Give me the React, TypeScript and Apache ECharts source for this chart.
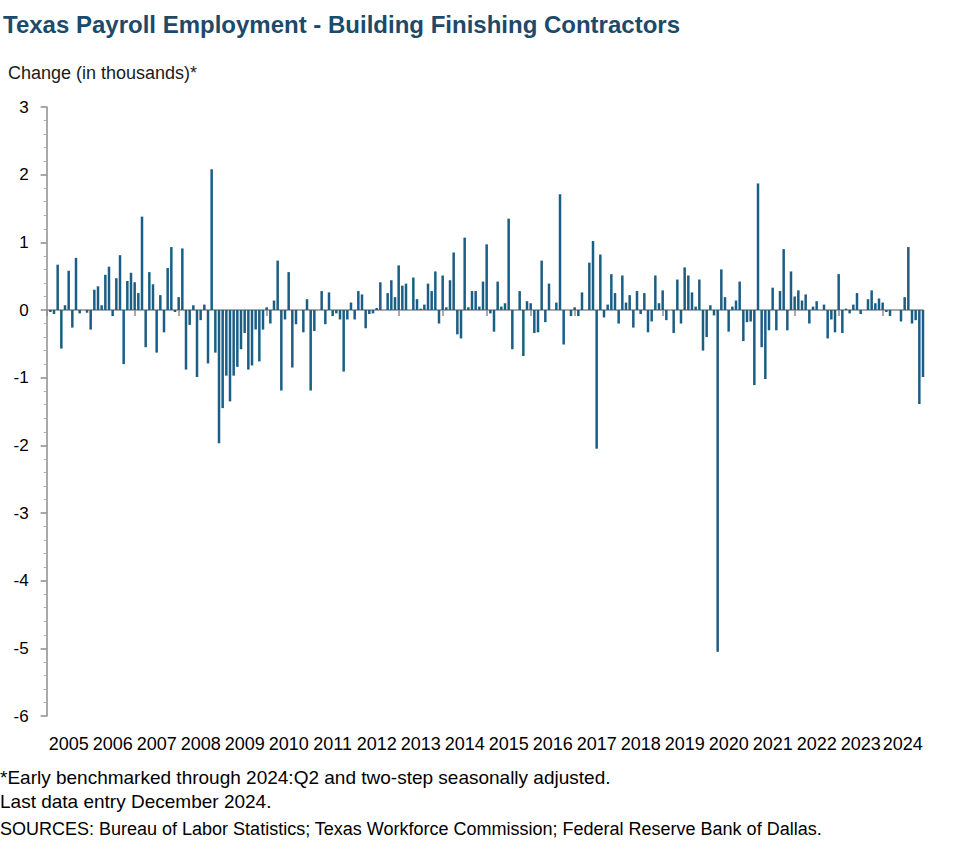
import React, { useEffect, useRef } from "react";
import * as echarts from "echarts";

// Year labels for the category span of each year
const yearLabels = [
  "2005", "2006", "2007", "2008", "2009", "2010", "2011", "2012", "2013", "2014",
  "2015", "2016", "2017", "2018", "2019", "2020", "2021", "2022", "2023", "2024",
];

// Monthly change in thousands, Jan..Dec of each year
const chg2005 = [0, -0.03, -0.06, 0.67, -0.57, 0.07, 0.58, -0.26, 0.77, -0.05, 0, -0.04];
const chg2006 = [-0.29, 0.3, 0.35, 0.07, 0.52, 0.64, -0.09, 0.47, 0.81, -0.8, 0.43, 0.55];
const chg2007 = [0.41, 0.25, 1.38, -0.55, 0.56, 0.38, -0.63, 0.22, -0.33, 0.62, 0.93, -0.03];
const chg2008 = [0.19, 0.91, -0.88, -0.22, 0.07, -0.99, -0.15, 0.08, -0.79, 2.08, -0.63, -1.97];
const chg2009 = [-1.45, -0.97, -1.35, -0.97, -0.84, -0.58, -0.34, -0.88, -0.82, -0.29, -0.76, -0.29];
const chg2010 = [0.04, -0.2, 0.14, 0.73, -1.19, -0.14, 0.56, -0.85, -0.21, 0, -0.33, 0.16];
const chg2011 = [-1.19, -0.31, 0, 0.28, -0.21, 0.26, -0.09, -0.05, -0.14, -0.91, -0.14, 0.11];
const chg2012 = [-0.14, 0.28, 0.23, -0.27, -0.06, -0.05, 0.03, 0.41, 0, 0.25, 0.44, 0.19];
const chg2013 = [0.66, 0.36, 0.39, 0, 0.48, 0.16, 0.02, 0.08, 0.39, 0.28, 0.57, -0.2];
const chg2014 = [0.51, 0.04, 0.44, 0.85, -0.36, -0.42, 1.07, 0.04, 0.28, 0.28, 0.05, 0.42];
const chg2015 = [0.97, -0.05, -0.32, 0.42, 0.05, 0.1, 1.35, -0.58, 0, 0.28, -0.68, 0.13];
const chg2016 = [0.1, -0.34, -0.33, 0.73, -0.18, 0.39, 0, 0.11, 1.71, -0.51, 0, -0.09];
const chg2017 = [0.04, -0.09, 0.26, 0, 0.7, 1.02, -2.05, 0.82, -0.11, 0.08, 0.53, 0.25];
const chg2018 = [-0.2, 0.51, 0.11, 0.22, -0.26, 0.28, -0.06, 0.25, -0.33, -0.17, 0.51, 0.1];
const chg2019 = [0.29, -0.15, 0, -0.34, 0.45, -0.2, 0.63, 0.51, 0.26, 0.05, 0.45, -0.6];
const chg2020 = [-0.4, 0.07, -0.08, -5.05, 0.6, 0.19, -0.32, 0.05, 0.14, 0.42, -0.46, -0.18];
const chg2021 = [-0.17, -1.11, 1.87, -0.55, -1.02, -0.3, 0.33, -0.3, 0.28, 0.9, -0.3, 0.57];
const chg2022 = [0.2, 0.29, 0.14, 0.23, -0.2, 0.05, 0.13, 0, 0.08, -0.42, -0.14, -0.33];
const chg2023 = [0.53, -0.34, 0.02, -0.05, 0.08, 0.25, -0.06, 0, 0.16, 0.29, 0.1, 0.17];
const chg2024 = [0.11, -0.03, -0.09, 0, 0, -0.17, 0.19, 0.93, -0.2, -0.15, -1.39, -0.99];

const monthlyChange = [
  ...chg2005, ...chg2006, ...chg2007, ...chg2008, ...chg2009,
  ...chg2010, ...chg2011, ...chg2012, ...chg2013, ...chg2014,
  ...chg2015, ...chg2016, ...chg2017, ...chg2018, ...chg2019,
  ...chg2020, ...chg2021, ...chg2022, ...chg2023, ...chg2024,
];

const titleText = "Texas Payroll Employment - Building Finishing Contractors";
const yAxisTitle = "Change (in thousands)*";
const footnotes = [
  "*Early benchmarked through 2024:Q2 and two-step seasonally adjusted.",
  "Last data entry December 2024.",
  "SOURCES: Bureau of Labor Statistics; Texas Workforce Commission; Federal Reserve Bank of Dallas.",
];

const FONT = "'Liberation Sans', Arial, sans-serif";
const AXIS_GREY = "#8c8c8c";

export default function App() {
  const ref = useRef<HTMLDivElement>(null);

  useEffect(() => {
    if (!ref.current) return;
    const chart = echarts.init(ref.current, undefined, { renderer: "svg" });
    const lastIdx = monthlyChange.length - 1;
    const tickVals = yearLabels.map((_, i) => i * 12);
    const labelVals = yearLabels.map((_, i) =>
      i < yearLabels.length - 1 ? i * 12 + 6 : (i * 12 + lastIdx) / 2
    );
    const footTops = [768, 792, 820];
    const footSizes = [19, 19, 18];

    const option: any = {
      animation: false,
      backgroundColor: "#ffffff",
      grid: { left: 46.67, right: 54, top: 107, bottom: 148, containLabel: false },
      xAxis: [
        {
          type: "value",
          min: 0,
          max: lastIdx,
          position: "bottom",
          axisLine: { show: true, onZero: true, lineStyle: { color: AXIS_GREY, width: 1.5 } },
          axisTick: { show: true, length: 6, customValues: tickVals, lineStyle: { color: AXIS_GREY, width: 1.5 } },
          axisLabel: { show: false },
          splitLine: { show: false },
        },
        {
          type: "value",
          min: 0,
          max: lastIdx,
          position: "bottom",
          axisLine: { show: false, onZero: false },
          axisTick: { show: false },
          axisLabel: {
            show: true,
            customValues: labelVals,
            formatter: (v: number) => yearLabels[Math.min(yearLabels.length - 1, Math.floor(v / 12))],
            fontSize: 18,
            fontFamily: FONT,
            color: "#000000",
            margin: 19,
          },
          splitLine: { show: false },
        },
      ],
      yAxis: {
        type: "value",
        min: -6,
        max: 3,
        interval: 1,
        axisLine: { show: true, onZero: false, lineStyle: { color: AXIS_GREY, width: 1.5 } },
        axisTick: { show: true, length: 6, lineStyle: { color: AXIS_GREY, width: 1.5 } },
        minorTick: { show: true, splitNumber: 5, length: 3, lineStyle: { color: "#b0b0b0", width: 1 } },
        axisLabel: { fontSize: 17, fontFamily: FONT, color: "#000000", margin: 18 },
        splitLine: { show: false },
      },
      series: [
        {
          type: "bar",
          xAxisIndex: 0,
          yAxisIndex: 0,
          data: monthlyChange.map((v, i) => [i, v]),
          barWidth: 2.5,
          itemStyle: { color: "#1b5e84" },
          silent: true,
        },
      ],
      graphic: [
        {
          type: "text",
          left: 3,
          top: 12,
          style: { text: titleText, font: `bold 24px ${FONT}`, fill: "#1b4a6b" },
        },
        {
          type: "text",
          left: 8,
          top: 64,
          style: { text: yAxisTitle, font: `18px ${FONT}`, fill: "#1a1a1a" },
        },
        ...footnotes.map((t, i) => ({
          type: "text",
          left: 0,
          top: footTops[i],
          style: { text: t, font: `${footSizes[i]}px ${FONT}`, fill: "#000000" },
        })),
      ],
    };
    chart.setOption(option);
    return () => chart.dispose();
  }, []);

  return (
    <div
      ref={ref}
      style={{ position: "absolute", left: 0, top: 0, width: 977, height: 864 }}
    />
  );
}
